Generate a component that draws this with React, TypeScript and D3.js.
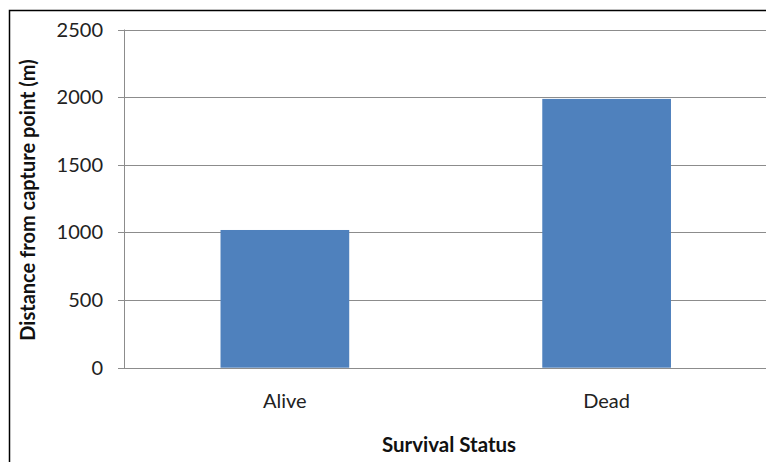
import { useMemo } from "react";
import * as d3 from "d3";

const WIDTH = 766;
const HEIGHT = 462;

const categories = ["Alive", "Dead"];
const distances = [1018, 1987];
const yTicks = [0, 500, 1000, 1500, 2000, 2500];

const FONT = "Lato, 'Open Sans', sans-serif";

export default function App() {
  const x = useMemo(
    () => d3.scaleBand<string>().domain(categories).range([124, 767.5]).paddingInner(0.6).paddingOuter(0.3),
    []
  );
  const y = useMemo(() => d3.scaleLinear().domain([0, 2500]).range([367.7, 29.5]), []);

  return (
    <svg
      width={WIDTH}
      height={HEIGHT}
      style={{ position: "absolute", left: 0, top: 0, background: "#fff" }}
      fontFamily={FONT}
    >
      {/* outer frame */}
      <path d={`M9.5,${HEIGHT + 2} V10.5 H${WIDTH + 2}`} fill="none" stroke="#000" strokeWidth={1.5} />

      {/* gridlines + y ticks */}
      {yTicks.map((t) => (
        <g key={t}>
          {t > 0 && (
            <line x1={124} x2={766} y1={Math.round(y(t)) + 0.5} y2={Math.round(y(t)) + 0.5} stroke="#8c8c8c" />
          )}
          <line x1={118} x2={124} y1={Math.round(y(t)) + 0.5} y2={Math.round(y(t)) + 0.5} stroke="#8c8c8c" />
          <text x={103} y={y(t)} dy="0.35em" textAnchor="end" fontSize={20} fill="#222">
            {t}
          </text>
        </g>
      ))}

      {/* bars */}
      {categories.map((c, i) => (
        <rect
          key={c}
          x={x(c)}
          y={y(distances[i])}
          width={x.bandwidth()}
          height={y(0) - y(distances[i])}
          fill="#4f81bd"
        />
      ))}

      {/* axes */}
      <line x1={124.5} x2={124.5} y1={29.5} y2={368} stroke="#8c8c8c" />
      <line x1={118} x2={766} y1={368.5} y2={368.5} stroke="#8c8c8c" />

      {categories.map((c) => (
        <text key={c} x={x(c)! + x.bandwidth() / 2} y={408} textAnchor="middle" fontSize={20} fill="#222">
          {c}
        </text>
      ))}

      <text x={449} y={452} textAnchor="middle" fontSize={20.5} fontWeight="bold" fill="#111">
        Survival Status
      </text>
      <text
        transform={`translate(35,200) rotate(-90)`}
        textAnchor="middle"
        fontSize={20}
        fontWeight="bold"
        fill="#111"
      >
        Distance from capture point (m)
      </text>
    </svg>
  );
}
